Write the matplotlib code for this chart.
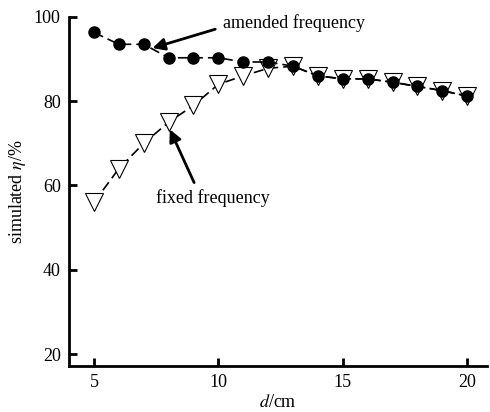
import numpy as np
import matplotlib.pyplot as plt

plt.rcParams['font.family'] = ['Liberation Serif', 'DejaVu Serif']
plt.rcParams['mathtext.fontset'] = 'stix'

# distance d (cm) and simulated efficiency (%)
d = [5, 6, 7, 8, 9, 10, 11, 12, 13, 14, 15, 16, 17, 18, 19, 20]
eta_amended = [96.3, 93.5, 93.5, 90.3, 90.3, 90.3, 89.3, 89.3, 88.3, 86, 85.3, 85.3, 84.5, 83.5, 82.5, 81.2]
eta_fixed = [56, 64, 70, 75, 79, 84, 86, 87.8, 88.3, 86, 85.3, 85.3, 84.5, 83.5, 82.5, 81.2]

fig = plt.figure(figsize=(4.9, 4.12), dpi=100)
ax = fig.add_axes([0.141, 0.112, 0.853, 0.847])

ax.plot(d, eta_fixed, linestyle=(0, (6, 3)), color='black', lw=1.2,
        marker='v', markersize=13, markerfacecolor='white', markeredgecolor='black',
        markeredgewidth=0.8, zorder=2)
ax.plot(d, eta_amended, linestyle=(0, (6, 3)), color='black', lw=1.2,
        marker='o', markersize=8, markerfacecolor='black', markeredgecolor='black', zorder=3)

ax.set_xlim(4.0, 20.8)
ax.set_ylim(17.2, 100)
ax.set_xticks([5, 10, 15, 20])
ax.set_yticks([20, 40, 60, 80, 100])
ax.spines['top'].set_visible(False)
ax.spines['right'].set_visible(False)
ax.spines['left'].set_linewidth(2)
ax.spines['bottom'].set_linewidth(2)
ax.tick_params(direction='in', width=2, length=6, labelsize=13, pad=6)

ax.set_xlabel(r'$\mathit{d}$/cm', fontsize=13, labelpad=2)
ax.set_ylabel(r'simulated $\mathit{\eta}$/%', fontsize=13, labelpad=4)

ax.annotate('amended frequency', xy=(7.35, 92.6), xytext=(10.2, 98.5),
            fontsize=13, va='center', ha='left',
            arrowprops=dict(arrowstyle='-|>', color='black', lw=2, mutation_scale=18,
                            shrinkA=4, shrinkB=0, relpos=(0.0, 0.3)))
ax.annotate('fixed frequency', xy=(8.05, 73.3), xytext=(7.5, 57.0),
            fontsize=13, va='center', ha='left',
            arrowprops=dict(arrowstyle='-|>', color='black', lw=2, mutation_scale=18,
                            shrinkA=3, shrinkB=0, relpos=(0.36, 1.0)))

fig.savefig('out.png', dpi=100)
